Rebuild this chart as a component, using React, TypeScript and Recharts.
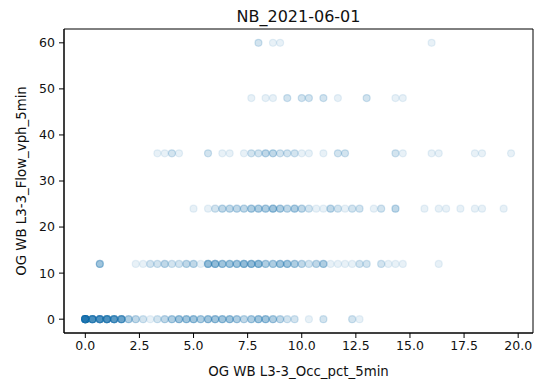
import React from 'react';
import { ScatterChart, Scatter, XAxis, YAxis, ReferenceArea } from 'recharts';

// Flow levels (vph in 5-min) and occupancy values observed at each level, with how many points overlap there
const occAt0 = [0.0, 0.33, 0.67, 1.0, 1.33, 1.67, 2.0, 2.33, 2.67, 3.0, 3.33, 3.67, 4.0, 4.33, 4.67, 5.0, 5.33, 5.67, 6.0, 6.33, 6.67, 7.0, 7.33, 7.67, 8.0, 8.33, 8.67, 9.0, 9.33, 9.67, 10.33, 11.0, 12.33, 12.67];
const cntAt0 = [30, 15, 14, 14, 12, 10, 4, 3, 2, 1, 2, 3, 4, 5, 5, 5, 4, 5, 5, 5, 5, 4, 3, 4, 5, 5, 4, 3, 2, 2, 1, 2, 2, 1];

const occAt12 = [0.67, 2.33, 2.67, 3.0, 3.33, 3.67, 4.0, 4.33, 4.67, 5.0, 5.33, 5.67, 6.0, 6.33, 6.67, 7.0, 7.33, 7.67, 8.0, 8.33, 8.67, 9.0, 9.33, 9.67, 10.0, 10.33, 10.67, 11.0, 11.33, 11.67, 12.0, 12.33, 12.67, 13.0, 13.67, 14.0, 14.33, 14.67, 16.33];
const cntAt12 = [5, 1, 1, 2, 2, 3, 2, 2, 3, 3, 1, 6, 6, 5, 5, 5, 6, 6, 6, 4, 4, 5, 5, 4, 3, 2, 3, 4, 1, 1, 1, 1, 2, 2, 2, 1, 1, 1, 1];

const occAt24 = [5.0, 5.67, 6.0, 6.33, 6.67, 7.0, 7.33, 7.67, 8.0, 8.33, 8.67, 9.0, 9.33, 9.67, 10.0, 10.33, 10.67, 11.0, 11.33, 11.67, 12.0, 12.33, 12.67, 13.33, 13.67, 14.33, 15.67, 16.33, 16.67, 17.33, 18.0, 18.33, 19.33];
const cntAt24 = [1, 1, 2, 3, 3, 3, 3, 4, 4, 4, 5, 4, 3, 4, 3, 2, 1, 1, 3, 2, 1, 2, 2, 1, 2, 3, 1, 1, 1, 1, 1, 1, 1];

const occAt36 = [3.33, 3.67, 4.0, 4.33, 5.67, 6.33, 6.67, 7.33, 7.67, 8.0, 8.33, 8.67, 9.0, 9.33, 9.67, 10.0, 10.33, 11.0, 11.67, 12.0, 14.33, 14.67, 16.0, 16.33, 18.0, 18.33, 19.67];
const cntAt36 = [1, 1, 2, 1, 2, 1, 1, 1, 2, 2, 3, 3, 2, 2, 2, 1, 1, 1, 2, 2, 2, 1, 1, 1, 1, 1, 1];

const occAt48 = [7.67, 8.33, 8.67, 9.33, 10.0, 10.33, 11.0, 11.67, 13.0, 14.33, 14.67];
const cntAt48 = [1, 1, 1, 2, 2, 2, 2, 1, 2, 1, 1];

const occAt60 = [8.0, 8.67, 9.0, 16.0];
const cntAt60 = [2, 1, 1, 1];

const flowLevels = [0, 12, 24, 36, 48, 60];
const occRows = [occAt0, occAt12, occAt24, occAt36, occAt48, occAt60];
const cntRows = [cntAt0, cntAt12, cntAt24, cntAt36, cntAt48, cntAt60];

const xTicks = [0, 2.5, 5, 7.5, 10, 12.5, 15, 17.5, 20];
const yTicks = [0, 10, 20, 30, 40, 50, 60];
const xDomain: [number, number] = [-0.985, 20.685];
const yDomain: [number, number] = [-3, 63];

const titleText = 'NB_2021-06-01';
const xLabelText = 'OG WB L3-3_Occ_pct_5min';
const yLabelText = 'OG WB L3-3_Flow_vph_5min';

const points: { x: number; y: number }[] = [];
flowLevels.forEach((lvl, i) => {
  occRows[i].forEach((v, j) => {
    for (let k = 0; k < cntRows[i][j]; k++) points.push({ x: v, y: lvl });
  });
});

const FONT = 'DejaVu Sans';
const BLUE = '#1f77b4';

const Dot = (p: any) => (
  <circle cx={p.cx} cy={p.cy} r={3.5} fill={BLUE} fillOpacity={0.1} stroke={BLUE} strokeOpacity={0.1} strokeWidth={1.2} />
);

export default function App() {
  return (
    <div style={{ position: 'absolute', left: 0, top: 0, width: 535, height: 381, background: '#fff' }}>
      <ScatterChart width={535} height={381} margin={{ top: 29, right: 2, bottom: 0, left: 0 }}>
        <XAxis
          type="number"
          dataKey="x"
          domain={xDomain}
          ticks={xTicks}
          allowDataOverflow
          height={48}
          tickSize={5}
          tickMargin={3}
          tickFormatter={(v: number) => v.toFixed(1)}
          axisLine={{ stroke: '#000' }}
          tickLine={{ stroke: '#000' }}
          tick={{ fontSize: 12.5, fill: '#111', fontFamily: FONT }}
        />
        <YAxis
          type="number"
          dataKey="y"
          domain={yDomain}
          ticks={yTicks}
          allowDataOverflow
          width={64}
          tickSize={5}
          tickMargin={4}
          axisLine={{ stroke: '#000' }}
          tickLine={{ stroke: '#000' }}
          tick={{ fontSize: 12.5, fill: '#111', fontFamily: FONT }}
        />
        <Scatter data={points} shape={Dot} isAnimationActive={false} />
        <ReferenceArea x1={xDomain[0]} x2={xDomain[1]} y1={yDomain[0]} y2={yDomain[1]} fill="none" stroke="#000" strokeWidth={1} ifOverflow="visible" />
      </ScatterChart>
      <svg width={535} height={381} style={{ position: 'absolute', left: 0, top: 0, pointerEvents: 'none' }}>
        <text x={298.5} y={22} textAnchor="middle" fontSize={16} fontFamily={FONT} fill="#111">{titleText}</text>
        <text x={298.5} y={376} textAnchor="middle" fontSize={13.33} fontFamily={FONT} fill="#111">{xLabelText}</text>
        <text x={26} y={181} textAnchor="middle" fontSize={13.33} fontFamily={FONT} fill="#111" transform="rotate(-90 26 181)">{yLabelText}</text>
      </svg>
    </div>
  );
}
